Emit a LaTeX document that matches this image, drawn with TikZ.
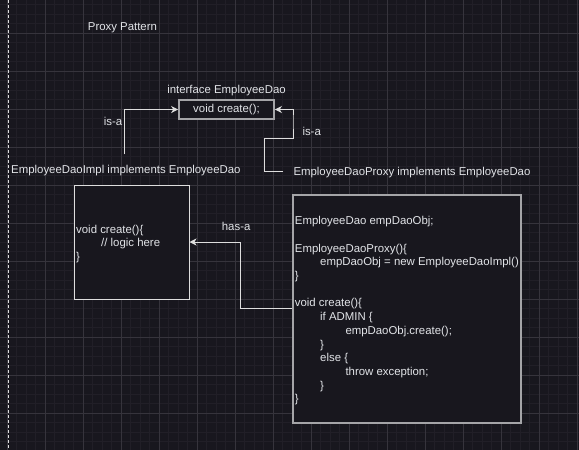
\documentclass[tikz,border=0pt]{standalone}
\usepackage{fontspec}
\setmainfont{Liberation Sans}
\usetikzlibrary{arrows.meta}
\definecolor{bgc}{RGB}{24,23,30}
\definecolor{minorc}{RGB}{33,31,39}
\definecolor{majorc}{RGB}{54,52,60}
\definecolor{txtc}{RGB}{226,228,232}
\definecolor{linec}{RGB}{222,222,222}
\definecolor{grayb}{RGB}{165,165,168}
\tikzset{
  lbl/.style={inner sep=0pt, text=txtc, font=\fontsize{11.4}{13.7}\selectfont, anchor=base west},
  conn/.style={draw=linec, line width=1pt, -{Stealth[length=7pt,width=7pt,inset=2pt]}},
  graybox/.style={draw=grayb, line width=1.6pt, fill=bgc, inner sep=0pt},
  whitebox/.style={draw=linec, line width=1pt, fill=bgc, inner sep=0pt}
}
\begin{document}
\begin{tikzpicture}[x=1pt,y=-1pt]
\useasboundingbox (0,0) rectangle (579,450);
\clip (0,0) rectangle (579,450);
\fill[bgc] (0,0) rectangle (579,450);
% grid
\foreach \i in {-1,...,60} {
  \draw[minorc, line width=0.8pt] ({7.3+9.5*\i},0) -- ({7.3+9.5*\i},450);
}
\foreach \i in {0,...,48} {
  \draw[minorc, line width=0.8pt] (0,{-4.7+9.5*\i}) -- (579,{-4.7+9.5*\i});
}
\foreach \i in {0,...,15} {
  \draw[majorc, line width=0.9pt] ({7.3+38*\i},0) -- ({7.3+38*\i},450);
}
\foreach \i in {0,...,12} {
  \draw[majorc, line width=0.9pt] (0,{-4.7+38*\i}) -- (579,{-4.7+38*\i});
}
\draw[linec, line width=1pt, dash pattern=on 3pt off 2pt] (8,0) -- (8,450);

% title
\node[lbl] (title) at (87.7,30) {Proxy Pattern};

% interface
\node[lbl, anchor=base] (ifacelbl) at (226.5,93.3) {interface EmployeeDao};
\node[graybox, minimum width=95pt, minimum height=19pt, text=txtc, font=\fontsize{11.4}{13.7}\selectfont] (iface) at (226.5,109.5) {void create();};

\node[lbl] (isaL) at (103.7,125.3) {is-a};
\node[lbl] (isaR) at (302.3,135) {is-a};

\node[lbl] (impllbl) at (11,173) {EmployeeDaoImpl implements EmployeeDao};
\node[lbl] (proxylbl) at (293.3,175) {EmployeeDaoProxy implements EmployeeDao};

% impl box
\node[whitebox, minimum width=115pt, minimum height=114pt] (impl) at (131.5,242) {};
\node[lbl] (i1) at (76,233.3) {void create()\{};
\node[lbl] (i2) at (101,246.3) {// logic here};
\node[lbl] (i3) at (76,260) {\}};

% proxy box
\node[graybox, minimum width=228.3pt, minimum height=227.7pt] (proxy) at (406.85,308.85) {};
\node[lbl] (p1) at (294.7,224.7) {EmployeeDao empDaoObj;};
\node[lbl] (p2) at (294.7,252.1) {EmployeeDaoProxy()\{};
\node[lbl] (p3) at (320,265.8) {empDaoObj = new EmployeeDaoImpl()};
\node[lbl] (p4) at (294.7,279.5) {\}};
\node[lbl] (p5) at (294.7,306.9) {void create()\{};
\node[lbl] (p6) at (320,320.6) {if ADMIN \{};
\node[lbl] (p7) at (345.3,334.3) {empDaoObj.create();};
\node[lbl] (p8) at (320,348) {\}};
\node[lbl] (p9) at (320,361.7) {else \{};
\node[lbl] (p10) at (345.3,375.4) {throw exception;};
\node[lbl] (p11) at (320,389.1) {\}};
\node[lbl] (p12) at (294.7,402.8) {\}};

\node[lbl] (hasa) at (221.7,230) {has-a};

% connectors
\coordinate (implTop) at (124.3,154.3);
\draw[conn] (implTop) |- (iface.west);

\coordinate (pxStart) at (283,171);
\coordinate (pxA) at (264,138);
\coordinate (pxB) at (293,120);
\draw[conn] (pxStart) -| (pxA) -| (pxB) |- (iface.east);

\coordinate (hasX) at (240.7,275);
\draw[conn] (proxy.west) -| (hasX) |- (impl.east);
\end{tikzpicture}
\end{document}
